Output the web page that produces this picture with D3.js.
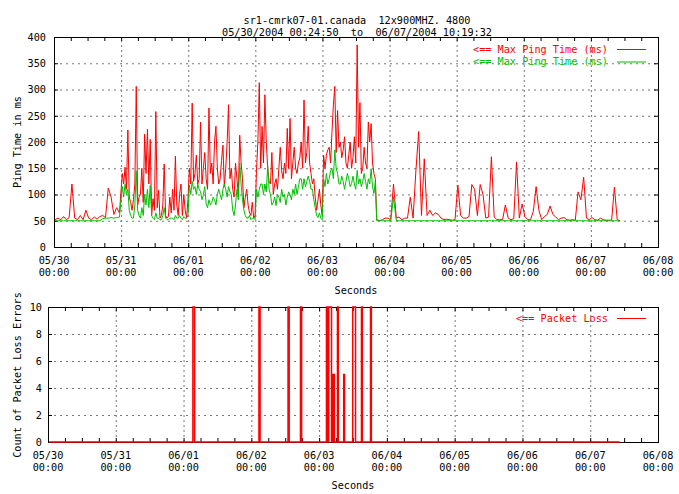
<!DOCTYPE html>
<html>
<head>
<meta charset="utf-8">
<script src="https://cdn.jsdelivr.net/npm/d3@7"></script>
<style>
body { margin: 0; background: #fff; }
svg text { font-family: "DejaVu Sans Mono", monospace; font-size: 10.2px; fill: #000; white-space: pre; }
</style>
</head>
<body>
<div id="wrapper"></div>
<script>
var titleLines = ["sr1-cmrk07-01.canada  12x900MHZ. 4800", "05/30/2004 00:24:50  to  06/07/2004 10:19:32"]
var dayLabels = ["05/30", "05/31", "06/01", "06/02", "06/03", "06/04", "06/05", "06/06", "06/07", "06/08"]
var hourLabel = "00:00"
var pingTicks = [0, 50, 100, 150, 200, 250, 300, 350, 400]
var lossTicks = [0, 2, 4, 6, 8, 10]
var legendPing = ["<== Max Ping Time (ms)", "<== Max Ping Time (ms)"]
var legendLoss = "<== Packet Loss"

// hourly samples from 05/30 00:24:50
var redPing = [
  52, 55, 52, 58, 52, 56, 120, 55, 52, 60,
  52, 70, 55, 52, 57, 53, 58, 60, 56, 112,
  95, 62, 75, 65, 140, 152, 223, 85, 90, 306,
  95, 150, 215, 224, 205, 92, 258, 108, 60, 158,
  55, 95, 110, 173, 60, 120, 100, 55, 150, 274,
  140, 120, 238, 150, 130, 265, 160, 200, 150, 130,
  194, 150, 271, 150, 95, 130, 213, 130, 95, 80,
  60, 55, 146, 313, 230, 290, 150, 120, 100, 130,
  150, 145, 160, 226, 245, 160, 150, 160, 200, 280,
  180, 160, 120, 95, 90, 80, 175, 175, 190, 220,
  306, 260, 200, 185, 160, 175, 150, 210, 385, 275,
  150, 160, 238, 235, 140, 52, 50, 52, 55, 55,
  52, 120, 55, 57, 52, 55, 55, 95, 55, 145,
  220, 60, 168, 60, 70, 60, 65, 62, 55, 52,
  53, 52, 51, 52, 118, 60, 55, 55, 58, 119,
  110, 60, 119, 100, 55, 57, 172, 57, 52, 52,
  52, 80, 55, 52, 54, 162, 55, 82, 58, 52,
  52, 68, 115, 70, 52, 58, 62, 78, 62, 57,
  52, 55, 56, 52, 51, 52, 51, 105, 90, 133,
  55, 52, 56, 52, 51, 55, 52, 51, 51, 51,
  114, 52, 50
]
var greenPing = [
  50, 50, 50, 50, 50, 50, 50, 50, 50, 50,
  50, 50, 50, 50, 50, 50, 50, 54, 55, 55,
  56, 55, 56, 57, 115, 120, 110, 60, 55, 145,
  60, 75, 100, 110, 117, 55, 65, 55, 52, 75,
  52, 55, 55, 60, 55, 55, 58, 55, 118, 125,
  115, 120, 105, 100, 82, 90, 85, 90, 100, 100,
  110, 110, 115, 100, 60, 110, 160, 90, 60, 55,
  52, 55, 110, 110, 120, 120, 155, 100, 85, 79,
  95, 110, 100, 95, 100, 110, 120, 115, 130, 130,
  125, 125, 110, 75, 56, 55, 130, 140, 130, 150,
  185, 140, 120, 125, 125, 130, 121, 120, 146, 130,
  125, 125, 130, 149, 102, 50, 50, 50, 50, 50,
  50, 95, 50, 50, 50, 50, 50, 50, 50, 50,
  50, 50, 50, 50, 50, 50, 50, 50, 50, 50,
  50, 50, 50, 50, 50, 50, 50, 50, 50, 50,
  50, 50, 50, 50, 50, 50, 50, 50, 50, 50,
  50, 50, 50, 50, 50, 50, 50, 50, 50, 50,
  50, 50, 50, 50, 50, 50, 50, 50, 50, 50,
  50, 50, 50, 50, 50, 50, 50, 50, 50, 50,
  50, 50, 50, 50, 50, 50, 50, 50, 50, 50,
  50, 50, 50
]
// extra half-hour samples in the busy stretch, from 24.5 h after start
var halfStart = 24.5
var redHalf = [
  120, 110, 95, 70, 120, 80, 100, 85, 140, 120, 60, 70, 75, 55, 80, 60, 58, 65, 70, 80, 100, 60, 70, 90,
  120, 125, 175, 130, 120, 180, 110, 140, 120, 230, 120, 165, 115, 200, 130, 110, 160, 100, 160, 75, 110, 65, 85, 60,
  200, 150, 160, 200, 125, 180, 120, 110, 190, 130, 140, 150, 130, 190, 140, 170, 150, 160, 230, 140, 130, 70, 110, 60,
  150, 185, 160, 270, 180, 190, 170, 210, 150, 200, 170, 160, 190, 140, 190, 150, 200, 160, 130
]
var greenHalf = [
  95, 100, 70, 55, 80, 70, 55, 60, 80, 75, 60, 52, 55, 52, 60, 55, 52, 55, 52, 55, 60, 52, 55, 60,
  100, 110, 100, 110, 90, 115, 75, 80, 95, 80, 110, 90, 120, 95, 105, 70, 80, 90, 120, 70, 55, 60, 55, 52,
  95, 120, 100, 105, 110, 80, 95, 100, 85, 95, 80, 105, 90, 100, 100, 130, 110, 115, 135, 110, 90, 60, 65, 52,
  115, 120, 145, 130, 150, 120, 135, 110, 140, 115, 135, 110, 120, 115, 140, 110, 120, 115, 125
]
// packet loss bursts: hour after 05/30 00:00, length in hours, count
var lossHour = [51.3, 74.7, 85.0, 89.4, 98.6, 99.4, 100.4, 101.0, 102.5, 104.7, 107.9, 111.0, 114.2]
var lossSpan = [0.6, 0.4, 0.4, 0.4, 0.3, 1.0, 0.5, 0.4, 0.3, 0.3, 1.0, 0.3, 0.3]
var lossCount = [10, 10, 10, 10, 10, 10, 5, 5, 10, 5, 10, 10, 10]

var width = 679, height = 494
var right = 658
var svg = d3.select("#wrapper").append("svg")
    .attr("width", width)
    .attr("height", height)

var start = new Date(2004, 4, 30, 0, 24, 50)
var dayZero = new Date(2004, 4, 30)
var dayEnd = new Date(2004, 5, 8)
function hoursAfter(d, h) { return new Date(d.getTime() + h * 3600000) }

function samples(hourly, half) {
    var pts = hourly.map(function (v, i) { return { t: hoursAfter(start, i), v: v } })
    half.forEach(function (v, i) { pts.push({ t: hoursAfter(start, halfStart + i), v: v }) })
    pts.sort(function (a, b) { return a.t - b.t })
    return pts
}
var redPts = samples(redPing, redHalf)
var greenPts = samples(greenPing, greenHalf)
var lastTime = hoursAfter(start, redPing.length - 1)

svg.selectAll(".title").data(titleLines).enter().append("text")
    .attr("x", 357)
    .attr("y", function (d, i) { return 24 + i * 12 })
    .attr("text-anchor", "middle")
    .attr("xml:space", "preserve")
    .text(function (d) { return d })

function panel(top, bottom, left, yDomain, yTicks, yTitle, yPad) {
    var x = d3.scaleTime().domain([dayZero, dayEnd]).range([left, right])
    var y = d3.scaleLinear().domain(yDomain).range([bottom, top])
    var days = d3.timeDay.range(dayZero, hoursAfter(dayEnd, 1))

    // dotted grid
    svg.append("g")
        .attr("transform", "translate(0," + bottom + ")")
        .call(d3.axisBottom(x).tickValues(days.slice(1, -1)).tickSize(-(bottom - top)).tickFormat(""))
        .call(function (g) { g.select(".domain").remove() })
        .selectAll("line").attr("stroke", "#777").attr("stroke-dasharray", "2,3")
    svg.append("g")
        .attr("transform", "translate(" + left + ",0)")
        .call(d3.axisLeft(y).tickValues(yTicks.slice(1, -1)).tickSize(-(right - left)).tickFormat(""))
        .call(function (g) { g.select(".domain").remove() })
        .selectAll("line").attr("stroke", "#777").attr("stroke-dasharray", "2,4")

    // frame and inward ticks
    svg.append("rect")
        .attr("x", left + 0.5).attr("y", top + 0.5)
        .attr("width", right - left).attr("height", bottom - top)
        .attr("fill", "none").attr("stroke", "#000")
    var six = d3.timeHour.every(6)
    svg.append("g").attr("transform", "translate(0," + bottom + ")")
        .call(d3.axisBottom(x).ticks(six).tickSize(-4).tickFormat(""))
        .call(function (g) { g.select(".domain").remove() })
    svg.append("g").attr("transform", "translate(0," + top + ")")
        .call(d3.axisTop(x).ticks(six).tickSize(-4).tickFormat(""))
        .call(function (g) { g.select(".domain").remove() })
    svg.append("g").attr("transform", "translate(" + left + ",0)")
        .call(d3.axisLeft(y).tickValues(yTicks).tickSize(-4).tickPadding(yPad))
        .call(function (g) { g.select(".domain").remove() })
        .attr("font-family", null).attr("font-size", null)
    svg.append("g").attr("transform", "translate(" + right + ",0)")
        .call(d3.axisRight(y).tickValues(yTicks).tickSize(-4).tickFormat(""))
        .call(function (g) { g.select(".domain").remove() })

    // two line date labels
    var lab = svg.append("g").selectAll("text").data(days).enter().append("text")
        .attr("text-anchor", "middle")
    lab.append("tspan")
        .attr("x", function (d) { return x(d) })
        .attr("y", bottom + 16.5)
        .text(function (d, i) { return dayLabels[i] })
    lab.append("tspan")
        .attr("x", function (d) { return x(d) })
        .attr("y", bottom + 28.5)
        .text(hourLabel)

    svg.append("text")
        .attr("x", (left + right) / 2)
        .attr("y", bottom + 47)
        .attr("text-anchor", "middle")
        .text("Seconds")
    svg.append("text")
        .attr("transform", "translate(21," + yTitle.c + ") rotate(-90)")
        .attr("text-anchor", "middle")
        .text(yTitle.t)
    return { x: x, y: y }
}

// ping panel
var p1 = panel(37, 247, 54, [0, 400], pingTicks, { t: "Ping Time in ms", c: 142 }, 8)
var pingLine = d3.line()
    .x(function (d) { return p1.x(d.t) })
    .y(function (d) { return p1.y(d.v) })
svg.append("path").datum(redPts)
    .attr("d", pingLine)
    .attr("fill", "none").attr("stroke", "#ff0000").attr("stroke-width", 1)
svg.append("path").datum(greenPts)
    .attr("d", pingLine)
    .attr("fill", "none").attr("stroke", "#00c000").attr("stroke-width", 1)

var colors = ["#ff0000", "#00c000"]
legendPing.forEach(function (t, i) {
    var ly = 49 + i * 12.5
    svg.append("text")
        .attr("x", 608).attr("y", ly + 3.5)
        .attr("text-anchor", "end")
        .style("fill", colors[i])
        .text(t)
    svg.append("line")
        .attr("x1", 617).attr("x2", 646)
        .attr("y1", ly + 0.5).attr("y2", ly + 0.5)
        .attr("stroke", colors[i])
})

// packet loss panel
var p2 = panel(307, 442, 48, [0, 10], lossTicks, { t: "Count of Packet Loss Errors", c: 375 }, 6)
var lossPts = [{ t: start, v: 0 }]
lossHour.forEach(function (h, i) {
    var a = hoursAfter(dayZero, h), b = hoursAfter(dayZero, h + lossSpan[i])
    lossPts.push({ t: a, v: 0 }, { t: a, v: lossCount[i] }, { t: b, v: lossCount[i] }, { t: b, v: 0 })
})
lossPts.push({ t: lastTime, v: 0 })
svg.append("path").datum(lossPts)
    .attr("d", d3.line().x(function (d) { return p2.x(d.t) }).y(function (d) { return p2.y(d.v) }))
    .attr("fill", "none").attr("stroke", "#ff0000").attr("stroke-width", 1.5)

svg.append("text")
    .attr("x", 608).attr("y", 321.5)
    .attr("text-anchor", "end")
    .style("fill", "#ff0000")
    .text(legendLoss)
svg.append("line")
    .attr("x1", 617).attr("x2", 646)
    .attr("y1", 318.5).attr("y2", 318.5)
    .attr("stroke", "#ff0000")
</script>
</body>
</html>
